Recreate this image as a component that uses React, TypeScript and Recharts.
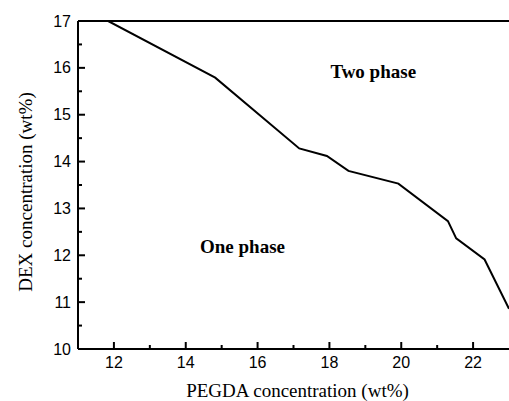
import React from "react";
import {
  LineChart,
  Line,
  XAxis,
  YAxis,
  ReferenceLine,
  ReferenceDot,
} from "recharts";

// binodal curve
const pegda = [11.84, 14.82, 17.16, 17.93, 18.53, 19.92, 21.3, 21.53, 22.32, 23.0];
const dex = [17.0, 15.79, 14.28, 14.12, 13.8, 13.53, 12.73, 12.36, 11.91, 10.86];

const xTicks = [12, 13, 14, 15, 16, 17, 18, 19, 20, 21, 22];
const xMajor = [12, 14, 16, 18, 20, 22];
const yTicks = [10, 10.5, 11, 11.5, 12, 12.5, 13, 13.5, 14, 14.5, 15, 15.5, 16, 16.5, 17];
const yMajor = [10, 11, 12, 13, 14, 15, 16, 17];

const regionLabels = [
  { x: 19.22, y: 15.93, text: "Two phase" },
  { x: 15.58, y: 12.19, text: "One phase" },
];

const data = pegda.map((x, i) => ({ x, y: dex[i] }));

const SANS = "'Liberation Sans', Arial, sans-serif";
const SERIF = "'Liberation Serif', 'Times New Roman', serif";

function XTick(props: any) {
  const { x, y, payload } = props;
  const major = xMajor.includes(payload.value);
  return (
    <g>
      <line x1={x} x2={x} y1={y} y2={y - (major ? 7 : 4)} stroke="#000" strokeWidth={2} />
      {major && (
        <text x={x} y={y + 19} textAnchor="middle" fontFamily={SANS} fontSize={16} fill="#000">
          {payload.value}
        </text>
      )}
    </g>
  );
}

function YTick(props: any) {
  const { x, y, payload } = props;
  const major = yMajor.includes(payload.value);
  return (
    <g>
      <line x1={x} x2={x + (major ? 7 : 4)} y1={y} y2={y} stroke="#000" strokeWidth={2} />
      {major && (
        <text x={x - 7} y={y + 5.5} textAnchor="end" fontFamily={SANS} fontSize={16} fill="#000">
          {payload.value}
        </text>
      )}
    </g>
  );
}

function YTitle(props: any) {
  const { viewBox } = props;
  const cx = viewBox.x + 17;
  const cy = viewBox.y + viewBox.height / 2 + 7;
  return (
    <text
      x={cx}
      y={cy}
      transform={`rotate(-90 ${cx} ${cy})`}
      textAnchor="middle"
      dominantBaseline="central"
      fontFamily={SERIF}
      fontSize={19}
      fill="#000"
    >
      DEX concentration (wt%)
    </text>
  );
}

function XTitle(props: any) {
  const { viewBox } = props;
  const cx = viewBox.x + viewBox.width / 2 + 4;
  return (
    <text x={cx} y={397} textAnchor="middle" fontFamily={SERIF} fontSize={19} fill="#000">
      PEGDA concentration (wt%)
    </text>
  );
}

export default function App() {
  return (
    <div style={{ position: "absolute", left: 0, top: 0, width: 509, height: 401, background: "#fff" }}>
      <LineChart width={509} height={401} data={data} margin={{ top: 21, right: 0, bottom: 0, left: 8 }}>
        <XAxis
          type="number"
          dataKey="x"
          domain={[11, 23]}
          ticks={xTicks}
          interval={0}
          allowDataOverflow
          height={52}
          tickSize={0}
          tickMargin={0}
          tickLine={false}
          axisLine={{ stroke: "#000", strokeWidth: 2 }}
          tick={<XTick />}
          label={<XTitle />}
        />
        <YAxis
          type="number"
          domain={[10, 17]}
          ticks={yTicks}
          interval={0}
          allowDataOverflow
          width={70}
          tickSize={0}
          tickMargin={0}
          tickLine={false}
          axisLine={{ stroke: "#000", strokeWidth: 2 }}
          tick={<YTick />}
          label={<YTitle />}
        />
        <ReferenceLine y={17} stroke="#000" strokeWidth={2} />
        {regionLabels.map((l) => (
          <ReferenceDot
            key={l.text}
            x={l.x}
            y={l.y}
            r={0}
            fill="none"
            stroke="none"
            label={{
              value: l.text,
              position: "center",
              fontFamily: SERIF,
              fontWeight: "bold",
              fontSize: 19,
              fill: "#000",
            }}
          />
        ))}
        <Line
          type="linear"
          dataKey="y"
          stroke="#000"
          strokeWidth={2}
          dot={false}
          isAnimationActive={false}
        />
      </LineChart>
    </div>
  );
}
